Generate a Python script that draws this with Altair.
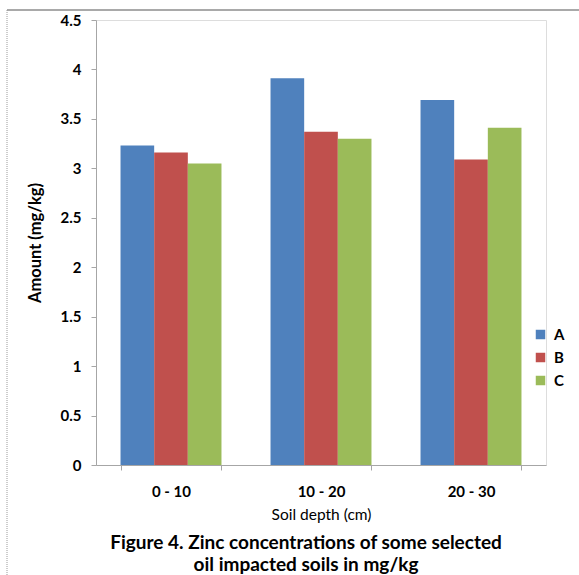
import altair as alt
import pandas as pd

depths = ["0 - 10", "10 - 20", "20 - 30"]
series = ["A", "B", "C"]
values_A = [3.23, 3.91, 3.69]
values_B = [3.16, 3.37, 3.09]
values_C = [3.05, 3.30, 3.41]
colors = ["#4F81BD", "#C0504D", "#9BBB59"]
y_ticks = [0, 0.5, 1, 1.5, 2, 2.5, 3, 3.5, 4, 4.5]

rows = []
for s, vals in zip(series, [values_A, values_B, values_C]):
    for d, v in zip(depths, vals):
        rows.append({"depth": d, "series": s, "value": v})
df = pd.DataFrame(rows)

FONT = "Lato"

bars = alt.Chart(df).mark_bar(stroke=None).encode(
    x=alt.X("depth:N", sort=depths,
            scale=alt.Scale(paddingInner=0.327, paddingOuter=0.1635),
            axis=alt.Axis(title="Soil depth (cm)", labelAngle=0, tickBand="extent",
                          labelFontWeight="bold", labelFontSize=15, labelPadding=14,
                          titleFontWeight="normal", titleFontSize=15.5, titlePadding=8,
                          tickSize=5, domainColor="#A6A6A6", tickColor="#A6A6A6",
                          labelColor="#000000", titleColor="#000000")),
    xOffset=alt.XOffset("series:N", sort=series),
    y=alt.Y("value:Q", scale=alt.Scale(domain=[0, 4.5], nice=False),
            axis=alt.Axis(title="Amount (mg/kg)", values=y_ticks, grid=False, format="~g",
                          labelFontWeight="bold", labelFontSize=15, labelPadding=10,
                          titleFontWeight="bold", titleFontSize=16.5, titlePadding=17,
                          tickSize=5, domainColor="#A6A6A6", tickColor="#A6A6A6",
                          labelColor="#000000", titleColor="#000000")),
    color=alt.Color("series:N", sort=series,
                    scale=alt.Scale(domain=series, range=colors),
                    legend=alt.Legend(title=None, orient="none", legendX=437, legendY=307,
                                      symbolType="square", symbolSize=90,
                                      symbolStrokeWidth=0, labelFontSize=15,
                                      labelFontWeight="bold", labelColor="#000000",
                                      rowPadding=7, labelOffset=6)),
)

border_top = alt.Chart().mark_rule(color="#8C8C8C", strokeWidth=1.5).encode(
    x=alt.value(-89), x2=alt.value(483), y=alt.value(-10))
border_left = alt.Chart().mark_rule(color="#9A9A9A", strokeWidth=1, strokeDash=[1, 1]).encode(
    x=alt.value(-89), y=alt.value(-10), y2=alt.value(555))

chart = alt.layer(bars, border_top, border_left).properties(
    width=450, height=445,
    title=alt.TitleParams(
        text=["Figure 4. Zinc concentrations of some selected",
              "oil impacted soils in mg/kg"],
        orient="bottom", anchor="middle", fontSize=19, fontWeight="bold",
        font=FONT, color="#000000", dy=-46, dx=-15, lineHeight=22),
    autosize=alt.AutoSizeParams(type="none"),
    padding={"left": 96, "top": 20, "right": 33, "bottom": 110},
).configure_view(stroke=None).configure(font=FONT).configure_axis(
    labelFont=FONT, titleFont=FONT).configure_legend(labelFont=FONT)

chart.save("out.html", embed_options={"renderer": "svg", "actions": False})
